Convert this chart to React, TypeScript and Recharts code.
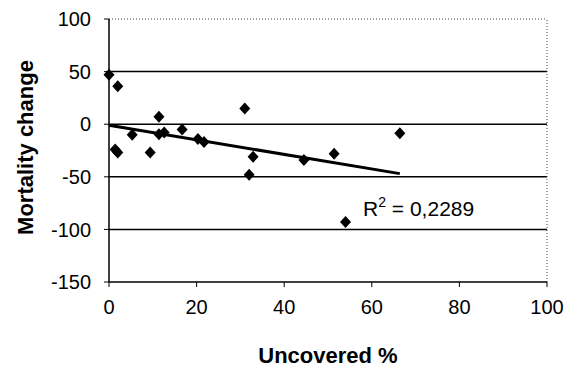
import React from "react";
import {
    ScatterChart,
    Scatter,
    XAxis,
    YAxis,
    ReferenceLine,
    ReferenceDot,
} from "recharts";

// values
const uncovered = [0, 2, 1.4, 2, 5.3, 9.4, 11.4, 11.4, 12.6, 16.7, 20.3, 21.7, 31, 32.9, 32, 44.5, 51.4, 54, 66.4];
const mortalityChange = [47, 36, -24, -27, -10, -27, 7, -9.5, -8, -5, -14, -17, 15, -31, -48, -34, -28, -93, -8.5];

const trendX = [0, 66.4];
const trendY = [-1, -47];

const xTicks = [0, 20, 40, 60, 80, 100];
const yTicks = [-150, -100, -50, 0, 50, 100];
const gridValues = [50, 0, -50, -100];

const rSquaredText = "0,2289";

const font = "'Liberation Sans', Arial, sans-serif";

const points = uncovered.map((x, i) => ({ x, y: mortalityChange[i] }));

const Diamond = (props: any) => {
    const { cx, cy } = props;
    if (cx == null || cy == null) return null;
    return (
        <polygon
            points={`${cx},${cy - 6} ${cx + 5.5},${cy} ${cx},${cy + 6} ${cx - 5.5},${cy}`}
            fill="#000"
        />
    );
};

const RSquaredLabel = (props: any) => {
    const { cx, cy } = props;
    return (
        <text x={cx} y={cy} fontFamily={font} fontSize={21} fill="#000" textAnchor="start">
            R
            <tspan fontSize={14} dy={-9}>2</tspan>
            <tspan dy={9}>{` = ${rSquaredText}`}</tspan>
        </text>
    );
};

export default function App() {
    return (
        <div style={{ position: "absolute", left: 0, top: 0, width: 568, height: 370, background: "#fff" }}>
            <ScatterChart
                width={568}
                height={370}
                margin={{ top: 19, right: 21, bottom: 0, left: 0 }}
            >
                <XAxis
                    type="number"
                    dataKey="x"
                    domain={[0, 100]}
                    ticks={xTicks}
                    height={88}
                    tickSize={5}
                    tickMargin={13}
                    axisLine={{ stroke: "#000", strokeWidth: 1.5 }}
                    tickLine={{ stroke: "#000" }}
                    tick={{ fill: "#000", fontSize: 20, fontFamily: font }}
                    label={{
                        value: "Uncovered %",
                        position: "center",
                        dy: 29,
                        fill: "#000",
                        fontSize: 22,
                        fontWeight: "bold",
                        fontFamily: font,
                    }}
                />
                <YAxis
                    type="number"
                    dataKey="y"
                    domain={[-150, 100]}
                    ticks={yTicks}
                    width={109}
                    tickSize={5}
                    tickMargin={13}
                    axisLine={{ stroke: "#000", strokeWidth: 1.5 }}
                    tickLine={{ stroke: "#000" }}
                    tick={{ fill: "#000", fontSize: 20, fontFamily: font }}
                    label={{
                        value: "Mortality change",
                        angle: -90,
                        position: "center",
                        dx: -29,
                        dy: -3,
                        fill: "#000",
                        fontSize: 22,
                        fontWeight: "bold",
                        fontFamily: font,
                    }}
                />
                {gridValues.map((v) => (
                    <ReferenceLine key={v} y={v} stroke="#000" strokeWidth={1.5} />
                ))}
                <ReferenceLine y={100} stroke="#444" strokeDasharray="1 2" />
                <ReferenceLine x={100} stroke="#444" strokeDasharray="1 2" />
                <ReferenceLine
                    segment={[
                        { x: trendX[0], y: trendY[0] },
                        { x: trendX[1], y: trendY[1] },
                    ]}
                    stroke="#000"
                    strokeWidth={3}
                />
                <Scatter data={points} shape={<Diamond />} isAnimationActive={false} />
                <ReferenceDot x={58} y={-87} r={0} shape={<RSquaredLabel />} />
            </ScatterChart>
        </div>
    );
}
